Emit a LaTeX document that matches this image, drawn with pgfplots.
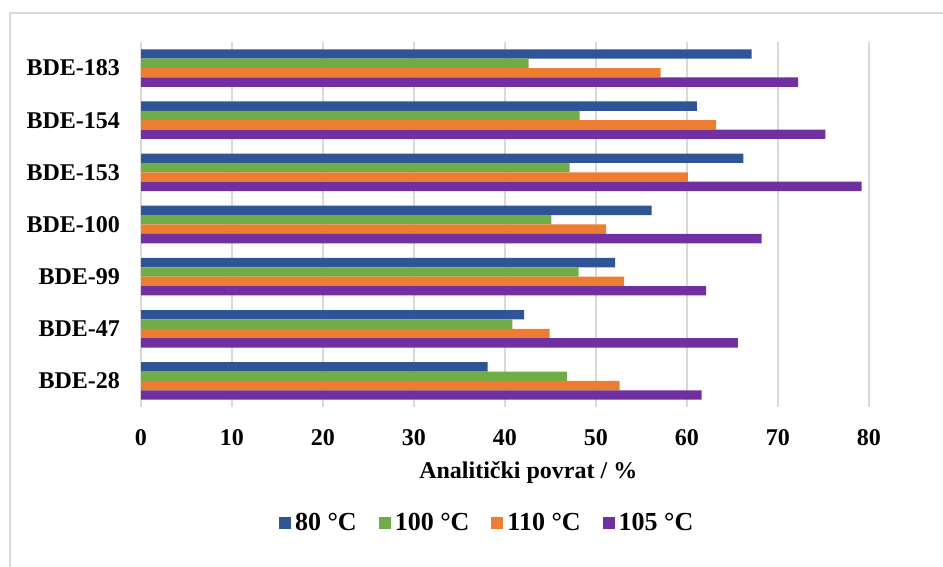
\documentclass[border=0pt]{standalone}
\usepackage{fontspec}
\setmainfont{Liberation Serif}
\usepackage{pgfplots}
\pgfplotsset{compat=1.18}

\definecolor{c80}{HTML}{2F5597}
\definecolor{c100}{HTML}{70AD47}
\definecolor{c110}{HTML}{ED7D31}
\definecolor{c105}{HTML}{7030A0}
\definecolor{gridgray}{HTML}{D9D9D9}

\begin{document}
\begin{tikzpicture}
\useasboundingbox (0,0) rectangle (471.5pt,283.5pt);
% chart frame (right and bottom edges fall outside the picture)
\draw[gridgray, line width=0.8pt] (5pt,277pt) rectangle (480pt,-10pt);
\begin{axis}[
    at={(70.5pt,80pt)}, anchor=south west,
    width=364pt, height=182.5pt,
    scale only axis,
    xbar,
    bar width=0.18,
    xmin=0, xmax=80,
    ymin=-0.5, ymax=6.5,
    xtick={0,10,...,80},
    ytick={0,...,6},
    yticklabels={BDE-28,BDE-47,BDE-99,BDE-100,BDE-153,BDE-154,BDE-183},
    axis line style={draw=none},
    major tick length=0pt,
    xmajorgrids,
    grid style={gridgray, line width=0.8pt},
    font=\fontsize{12}{14}\selectfont\bfseries,
    /pgf/number format/assume math mode=true,
    xticklabel style={yshift=-7.5pt, font=\fontsize{12}{14}\selectfont\bfseries},
    yticklabel style={xshift=-7pt, font=\fontsize{12}{14}\selectfont\bfseries},
    xlabel={Analitički povrat / \%},
    xlabel style={at={(axis description cs:0.532,-0.18)}, anchor=center},
    legend style={
        at={(0.477,-0.318)}, anchor=center,
        draw=none, legend columns=-1,
        /tikz/every even column/.append style={column sep=9pt},
        font=\fontsize{13}{15}\selectfont\bfseries,
    },
    legend image code/.code={\fill[#1] (0pt,-3pt) rectangle (6pt,3pt);},
]
\addplot[fill=c80, draw=none, bar shift=0.27] coordinates
  {(38.1,0) (42.1,1) (52.1,2) (56.1,3) (66.2,4) (61.1,5) (67.1,6)};
\addplot[fill=c100, draw=none, bar shift=0.09] coordinates
  {(46.8,0) (40.8,1) (48.1,2) (45.1,3) (47.1,4) (48.2,5) (42.6,6)};
\addplot[fill=c110, draw=none, bar shift=-0.09] coordinates
  {(52.6,0) (44.9,1) (53.1,2) (51.1,3) (60.1,4) (63.2,5) (57.1,6)};
\addplot[fill=c105, draw=none, bar shift=-0.27] coordinates
  {(61.6,0) (65.6,1) (62.1,2) (68.2,3) (79.2,4) (75.2,5) (72.2,6)};
\legend{80 °C, 100 °C, 110 °C, 105 °C}
\end{axis}
\end{tikzpicture}
\end{document}
